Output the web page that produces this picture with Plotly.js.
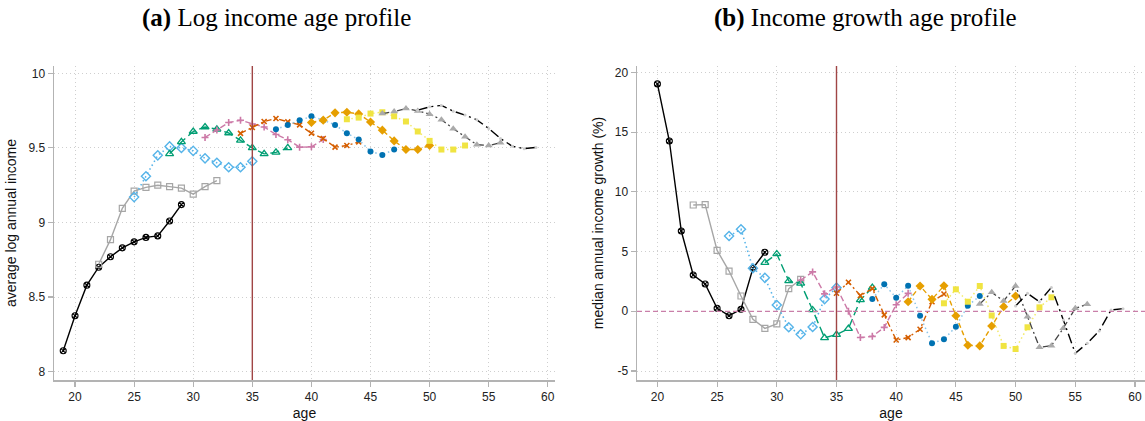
<!DOCTYPE html>
<html>
<head>
<meta charset="utf-8">
<script src="https://cdn.plot.ly/plotly-3.0.1.min.js"></script>
<style>html,body{margin:0;padding:0;background:#fff;}#chart{width:1145px;height:421px;}</style>
</head>
<body>
<div id="chart"></div>
<script>
// ---------- Panel (a): average log annual income by age, 11 cohorts ----------
const levelAge1  = [19,20,21,22,23,24,25,26,27,28,29];
const levelVal1  = [8.14,8.375,8.58,8.70,8.77,8.83,8.87,8.90,8.91,9.01,9.12];
const levelAge2  = [22,23,24,25,26,27,28,29,30,31,32];
const levelVal2  = [8.72,8.885,9.095,9.21,9.235,9.25,9.24,9.23,9.19,9.24,9.28];
const levelAge3  = [25,26,27,28,29,30,31,32,33,34,35];
const levelVal3  = [9.17,9.31,9.45,9.51,9.50,9.48,9.43,9.40,9.37,9.37,9.41];
const levelAge4  = [28,29,30,31,32,33,34,35,36,37,38];
const levelVal4  = [9.46,9.54,9.61,9.64,9.625,9.60,9.55,9.50,9.46,9.47,9.50];
const levelAge5  = [31,32,33,34,35,36,37,38,39,40,41];
const levelVal5  = [9.57,9.62,9.67,9.685,9.66,9.64,9.59,9.555,9.505,9.507,9.556];
const levelAge6  = [34,35,36,37,38,39,40,41,42,43,44];
const levelVal6  = [9.597,9.637,9.677,9.697,9.674,9.654,9.598,9.563,9.505,9.516,9.54];
const levelAge7  = [37,38,39,40,41,42,43,44,45,46,47];
const levelVal7  = [9.625,9.654,9.686,9.712,9.686,9.654,9.598,9.556,9.476,9.453,9.489];
const levelAge8  = [40,41,42,43,44,45,46,47,48,49,50];
const levelVal8  = [9.67,9.686,9.735,9.739,9.728,9.674,9.619,9.547,9.489,9.489,9.516];
const levelAge9  = [43,44,45,46,47,48,49,50,51,52,53];
const levelVal9  = [9.692,9.703,9.73,9.739,9.712,9.677,9.61,9.547,9.489,9.489,9.516];
const levelAge10 = [46,47,48,49,50,51,52,53,54,55,56];
const levelVal10 = [9.73,9.744,9.764,9.748,9.726,9.689,9.629,9.575,9.521,9.516,9.535];
const levelAge11 = [49,50,51,52,53,54,55,56,57,58,59];
const levelVal11 = [9.753,9.775,9.785,9.746,9.72,9.688,9.63,9.563,9.511,9.495,9.503];

// ---------- Panel (b): median annual income growth (%) by age ----------
const growthAge1  = [20,21,22,23,24,25,26,27,28,29];
const growthVal1  = [19.04,14.26,6.72,3.04,2.29,0.25,-0.37,0.17,3.6,4.94];
const growthAge2  = [23,24,25,26,27,28,29,30,31,32];
const growthVal2  = [8.9,8.93,5.1,3.37,1.28,-0.67,-1.43,-1.06,1.9,2.68];
const growthAge3  = [26,27,28,29,30,31,32,33,34,35];
const growthVal3  = [6.3,6.87,3.6,2.8,0.53,-1.34,-1.93,-1.32,1.02,1.98];
const growthAge4  = [29,30,31,32,33,34,35,36,37,38];
const growthVal4  = [4.07,4.8,2.54,2.34,0.11,-2.22,-1.95,-1.45,0.95,1.98];
const growthAge5  = [32,33,34,35,36,37,38,39,40,41];
const growthVal5  = [2.6,3.3,1.46,2.03,0.0,-2.2,-2.1,-1.35,0.55,1.5];
const growthAge6  = [35,36,37,38,39,40,41,42,43,44];
const growthVal6  = [1.51,2.43,1.31,1.9,-0.3,-2.4,-2.2,-1.5,0.8,1.45];
const growthAge7  = [38,39,40,41,42,43,44,45,46,47];
const growthVal7  = [1.03,2.26,1.14,2.14,-0.37,-2.68,-2.35,-1.29,0.47,1.28];
const growthAge8  = [41,42,43,44,45,46,47,48,49,50];
const growthVal8  = [0.8,2.12,1.0,2.14,-0.37,-2.85,-2.9,-1.23,0.39,1.28];
const growthAge9  = [44,45,46,47,48,49,50,51,52,53];
const growthVal9  = [0.67,1.84,0.8,2.12,-0.35,-2.9,-3.16,-1.34,0.33,1.17];
const growthAge10 = [47,48,49,50,51,52,53,54,55,56];
const growthVal10 = [0.61,1.59,0.86,2.12,-0.45,-3.02,-2.88,-1.42,0.25,0.59];
const growthAge11 = [50,51,52,53,54,55,56,57,58,59];
const growthVal11 = [0.44,1.5,0.8,2.0,-0.73,-3.52,-2.68,-1.65,0.11,0.22];

const xTicks = [20,25,30,35,40,45,50,55,60];
const levelTicks = [8,8.5,9,9.5,10];
const levelTickText = ['8','8.5','9','9.5','10'];
const growthTicks = [-5,0,5,10,15,20];
const growthTickText = ['-5','0','5','10','15','20'];
const markerAge = 35;

// ---------- styles ----------
const styles = [
  {line:{color:'#000000',width:1.4,dash:'solid'}, marker:{symbol:'circle-x-open',size:6,color:'#000000',line:{width:1.1,color:'#000000'}}},
  {line:{color:'#a6a6a6',width:1.4,dash:'solid'}, marker:{symbol:'square-open',size:6,color:'#a6a6a6',line:{width:1.2,color:'#a6a6a6'}}},
  {line:{color:'#56B4E9',width:1.6,dash:'1.5px,3px'}, marker:{symbol:'diamond-open',size:7,color:'#56B4E9',line:{width:1.4,color:'#56B4E9'}}},
  {line:{color:'#009E73',width:1.4,dash:'9px,4px'}, marker:{symbol:'triangle-up-open',size:7,color:'#009E73',line:{width:1.3,color:'#009E73'}}},
  {line:{color:'#CC79A7',width:1.4,dash:'6px,3px'}, marker:{symbol:'cross-thin-open',size:5,color:'#CC79A7',line:{width:1.6,color:'#CC79A7'}}},
  {line:{color:'#D55E00',width:1.4,dash:'6px,3px,2px,3px'}, marker:{symbol:'x-thin-open',size:5,color:'#D55E00',line:{width:1.6,color:'#D55E00'}}},
  {line:{color:'#8cc4e8',width:1.5,dash:'1.5px,3px'}, marker:{symbol:'circle',size:6,color:'#0072B2'}},
  {line:{color:'#E69F00',width:1.4,dash:'5px,3px'}, marker:{symbol:'diamond',size:7,color:'#E69F00'}},
  {line:{color:'#F3EA6A',width:1.5,dash:'1.5px,3px'}, marker:{symbol:'square',size:6,color:'#F0E442'}},
  {line:{color:'#444444',width:1.3,dash:'7px,3px,2px,3px'}, marker:{symbol:'triangle-up',size:7,color:'#aaaaaa'}},
  {line:{color:'#000000',width:1.4,dash:'10px,4px,2px,4px'}, marker:{symbol:'circle',size:3,color:'#cccccc'}}
];

const levelAges = [levelAge1,levelAge2,levelAge3,levelAge4,levelAge5,levelAge6,levelAge7,levelAge8,levelAge9,levelAge10,levelAge11];
const levelVals = [levelVal1,levelVal2,levelVal3,levelVal4,levelVal5,levelVal6,levelVal7,levelVal8,levelVal9,levelVal10,levelVal11];
const growthAges = [growthAge1,growthAge2,growthAge3,growthAge4,growthAge5,growthAge6,growthAge7,growthAge8,growthAge9,growthAge10,growthAge11];
const growthVals = [growthVal1,growthVal2,growthVal3,growthVal4,growthVal5,growthVal6,growthVal7,growthVal8,growthVal9,growthVal10,growthVal11];

const traces = [];
levelAges.forEach((a,i)=>{
  traces.push({x:a,y:levelVals[i],type:'scatter',mode:'lines+markers',xaxis:'x',yaxis:'y',
    line:styles[i].line,marker:styles[i].marker,showlegend:false,hoverinfo:'x+y',cliponaxis:false});
});
growthAges.forEach((a,i)=>{
  traces.push({x:a,y:growthVals[i],type:'scatter',mode:'lines+markers',xaxis:'x2',yaxis:'y2',
    line:styles[i].line,marker:styles[i].marker,showlegend:false,hoverinfo:'x+y',cliponaxis:false});
});

const tickFont = {family:'Liberation Sans, Arial, sans-serif',size:12,color:'#222'};
const titleFont = {family:'Liberation Sans, Arial, sans-serif',size:14,color:'#111'};
const axisCommon = {
  showline:true, linecolor:'#b3b3b3', linewidth:1.5,
  ticks:'outside', ticklen:5, tickwidth:1.2, tickcolor:'#b3b3b3',
  showgrid:true, gridcolor:'#cfcfcf', gridwidth:1, griddash:'1px,3px',
  zeroline:false, tickfont:tickFont, automargin:false, fixedrange:true
};
const yDomain = [1-380/421, 1-66/421];

const layout = {
  width:1145, height:421,
  margin:{l:0,r:0,t:0,b:0},
  paper_bgcolor:'#ffffff', plot_bgcolor:'#ffffff',
  showlegend:false,
  xaxis: Object.assign({}, axisCommon, {domain:[54/1145,555/1145], range:[18.22,60.61],
    tickmode:'array', tickvals:xTicks, ticktext:xTicks.map(String),
    title:{text:'age', font:titleFont, standoff:5}, anchor:'y'}),
  yaxis: Object.assign({}, axisCommon, {domain:yDomain, range:[7.944,10.049],
    tickmode:'array', tickvals:levelTicks, ticktext:levelTickText,
    title:{text:'average log annual income', font:titleFont, standoff:8}, anchor:'x'}),
  xaxis2: Object.assign({}, axisCommon, {domain:[637/1145,1], range:[18.29,60.84],
    tickmode:'array', tickvals:xTicks, ticktext:xTicks.map(String),
    title:{text:'age', font:titleFont, standoff:5}, anchor:'y2'}),
  yaxis2: Object.assign({}, axisCommon, {domain:yDomain, range:[-5.754,20.54],
    tickmode:'array', tickvals:growthTicks, ticktext:growthTickText,
    title:{text:'median annual income growth (%)', font:titleFont, standoff:8}, anchor:'x2'}),
  shapes:[
    {type:'line', xref:'x', yref:'y domain', x0:markerAge, x1:markerAge, y0:0, y1:1,
     line:{color:'#a04545', width:1.4}, layer:'above'},
    {type:'line', xref:'x2', yref:'y2 domain', x0:markerAge, x1:markerAge, y0:0, y1:1,
     line:{color:'#a04545', width:1.4}, layer:'above'},
    {type:'line', xref:'x2 domain', yref:'y2', x0:0, x1:1, y0:0, y1:0,
     line:{color:'#c97fa9', width:1.3, dash:'5px,3px'}, layer:'above'}
  ],
  annotations:[
    {xref:'paper', yref:'paper', x:276/1145, y:1-18/421, xanchor:'center', yanchor:'middle', showarrow:false,
     text:'<b>(a)</b> Log income age profile', font:{family:'Liberation Serif, DejaVu Serif, serif', size:25, color:'#000'}},
    {xref:'paper', yref:'paper', x:865/1145, y:1-18/421, xanchor:'center', yanchor:'middle', showarrow:false,
     text:'<b>(b)</b> Income growth age profile', font:{family:'Liberation Serif, DejaVu Serif, serif', size:25, color:'#000'}}
  ]
};

Plotly.newPlot('chart', traces, layout, {staticPlot:true, displayModeBar:false});
</script>
</body>
</html>
